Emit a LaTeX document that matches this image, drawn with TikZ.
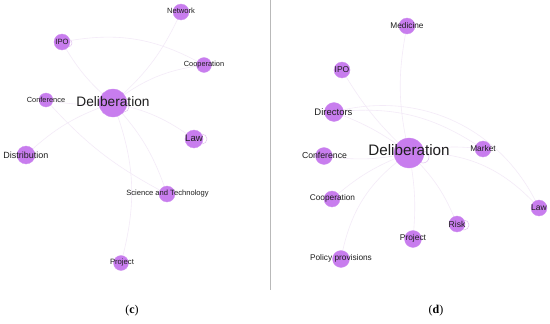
\documentclass[tikz,border=0pt]{standalone}
\usepackage{fontspec}
\setmainfont{Liberation Sans}
\newfontfamily\capfont{Liberation Serif}
\definecolor{nodefill}{HTML}{C87DEE}
\definecolor{edgecol}{HTML}{F4EBF8}
\definecolor{loopcol}{HTML}{E2C3F0}
\definecolor{txtcol}{HTML}{1E1E1E}
\begin{document}
\begin{tikzpicture}[x=1pt,y=-1pt,
  dot/.style={circle,fill=nodefill,draw=nodefill!85!white,line width=0.3pt,inner sep=0pt,minimum size=#1},
  lbl/.style={text=txtcol,inner sep=0pt,font=\fontsize{#1}{#1}\selectfont},
  lnk/.style={draw=edgecol,line width=0.6pt},
  selfloop/.style={draw=loopcol,line width=0.5pt},
  captext/.style={font=\capfont\fontsize{12}{14}\selectfont,text=black}]
\useasboundingbox (0,0) rectangle (550,324);
\fill[white] (0,0) rectangle (550,324);
\draw[gray!55,line width=0.8pt] (270,0) -- (270,290);

% ---------- panel (c) ----------
\coordinate (cD) at (113,103);
\coordinate (cNet) at (181,12);
\coordinate (cIPO) at (62,42);
\coordinate (cCoop) at (204,65);
\coordinate (cConf) at (46,100);
\coordinate (cLaw) at (194,139);
\coordinate (cDist) at (26,155);
\coordinate (cSci) at (167,194);
\coordinate (cProj) at (121,263);

\draw[lnk] (cD) to[bend right=12] (cNet);
\draw[lnk] (cD) to[bend left=10] (cIPO);
\draw[lnk] (cD) to[bend left=15] (cCoop);
\draw[lnk] (cD) to[bend left=8] (cConf);
\draw[lnk] (cD) to[bend left=12] (cLaw);
\draw[lnk] (cD) to[bend right=12] (cDist);
\draw[lnk] (cD) to[bend left=12] (cSci);
\draw[lnk] (cD) to[bend left=18] (cProj);
\draw[lnk] (cConf) to[bend right=10] (cSci);
\draw[lnk] (cIPO) to[bend left=20] (cCoop);

\draw[selfloop] (124,107) circle (5);
\draw[selfloop] (68,43) circle (4);
\draw[selfloop] (202,139) circle (5);

\node[dot=28pt] (nD) at (cD) {};
\node[dot=16pt] (nNet) at (cNet) {};
\node[dot=16pt] (nIPO) at (cIPO) {};
\node[dot=15pt] (nCoop) at (cCoop) {};
\node[dot=14pt] (nConf) at (cConf) {};
\node[dot=18pt] (nLaw) at (cLaw) {};
\node[dot=18pt] (nDist) at (cDist) {};
\node[dot=16pt] (nSci) at (cSci) {};
\node[dot=15pt] (nProj) at (cProj) {};

\node[lbl=13.7] (tD) at (113,101.5) {Deliberation};
\node[lbl=7.6] (tNet) at (181,11) {Network};
\node[lbl=7.6] (tIPO) at (62,42) {IPO};
\node[lbl=7.4] (tCoop) at (204,64.5) {Cooperation};
\node[lbl=7.4] (tConf) at (46,99.5) {Conference};
\node[lbl=9.6] (tLaw) at (194,138.5) {Law};
\node[lbl=9] (tDist) at (26,155) {Distribution};
\node[lbl=7.6] (tSci) at (167.5,193.5) {Science and Technology};
\node[lbl=7.7] (tProj) at (122,263) {Project};
\node[captext] (capc) at (132,311) {(\textbf{c})};

% ---------- panel (d) ----------
\coordinate (dD) at (409,153);
\coordinate (dMed) at (407,26);
\coordinate (dIPO) at (342,70);
\coordinate (dDir) at (334,112);
\coordinate (dMkt) at (483,149);
\coordinate (dConf) at (324,156);
\coordinate (dCoop) at (332,199);
\coordinate (dLaw) at (539,208);
\coordinate (dRisk) at (457,224);
\coordinate (dProj) at (413,239);
\coordinate (dPol) at (341,259);

\draw[lnk] (dD) to[bend left=12] (dMed);
\draw[lnk] (dD) to[bend left=8] (dIPO);
\draw[lnk] (dD) to[bend right=8] (dDir);
\draw[lnk] (dD) to[bend left=10] (dMkt);
\draw[lnk] (dD) to[bend left=10] (dConf);
\draw[lnk] (dD) to[bend right=10] (dCoop);
\draw[lnk] (dD) to[bend left=12] (dRisk);
\draw[lnk] (dD) to[bend left=8] (dProj);
\draw[lnk] (dD) to[bend right=22] (dPol);
\draw[lnk] (dDir) to[bend left=40] (dLaw);
\draw[lnk] (dDir) to[bend left=20] (dMkt);
\draw[lnk] (dD) to[bend left=25] (dLaw);

\draw[selfloop] (423,157) circle (6);
\draw[selfloop] (464,225) circle (5);

\node[dot=30pt] (mD) at (dD) {};
\node[dot=16pt] (mMed) at (dMed) {};
\node[dot=16pt] (mIPO) at (dIPO) {};
\node[dot=19pt] (mDir) at (dDir) {};
\node[dot=16pt] (mMkt) at (dMkt) {};
\node[dot=17pt] (mConf) at (dConf) {};
\node[dot=16pt] (mCoop) at (dCoop) {};
\node[dot=16pt] (mLaw) at (dLaw) {};
\node[dot=16pt] (mRisk) at (dRisk) {};
\node[dot=17pt] (mProj) at (dProj) {};
\node[dot=17pt] (mPol) at (dPol) {};

\node[lbl=15.2] (uD) at (409,150.5) {Deliberation};
\node[lbl=8.3] (uMed) at (407,26) {Medicine};
\node[lbl=8.5] (uIPO) at (342,70) {IPO};
\node[lbl=9.5] (uDir) at (333.5,112) {Directors};
\node[lbl=8.3] (uMkt) at (483,149) {Market};
\node[lbl=8.7] (uConf) at (324.5,155.5) {Conference};
\node[lbl=8.3] (uCoop) at (332.5,198.5) {Cooperation};
\node[lbl=8.5] (uLaw) at (539,207.5) {Law};
\node[lbl=8.6] (uRisk) at (457,224) {Risk};
\node[lbl=8.4] (uProj) at (413,238.5) {Project};
\node[lbl=8.3] (uPol) at (341,258.5) {Policy provisions};
\node[captext] (capd) at (436,311) {(\textbf{d})};
\end{tikzpicture}
\end{document}
